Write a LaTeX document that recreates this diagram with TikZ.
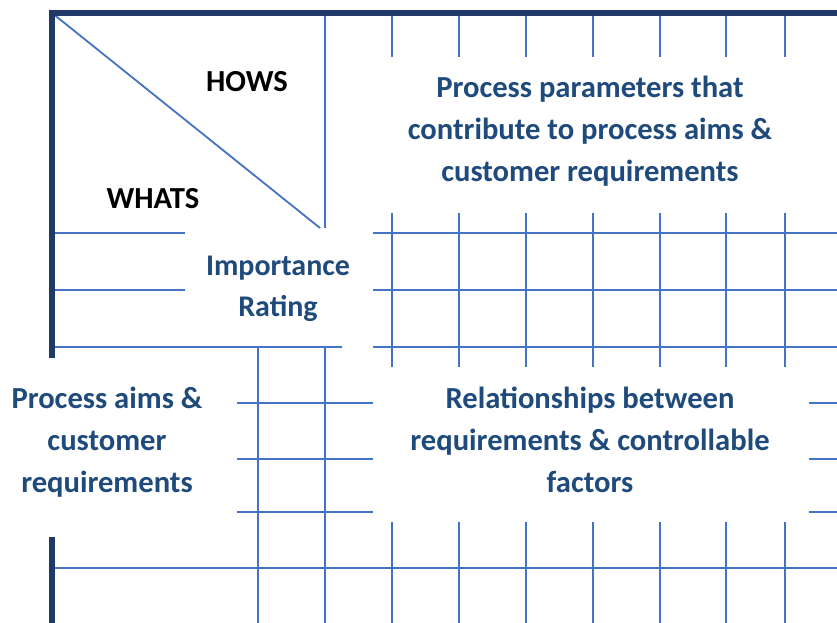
\documentclass[tikz,border=0pt]{standalone}
\usepackage{fontspec}
\setmainfont{Carlito}
\definecolor{txtblue}{HTML}{1F4A7C}
\definecolor{gridblue}{HTML}{4472C4}
\definecolor{frameblue}{HTML}{1F3A68}
\begin{document}
\begin{tikzpicture}[x=1pt,y=-1pt,
  gridline/.style={draw=gridblue,line width=1.8pt},
  frameline/.style={draw=frameblue,line width=6.5pt},
  lbl/.style={font=\bfseries\fontsize{30.6}{42}\selectfont,text=txtblue,align=center,inner sep=0pt},
  hdr/.style={font=\bfseries\fontsize{30.6}{42}\selectfont,text=black,inner sep=0pt,anchor=base}]
\useasboundingbox[fill=white] (0,0) rectangle (837,623);
% thin grid: horizontal segments
\foreach \y in {233,290} {
  \draw[gridline] (52,\y) -- (185,\y);
  \draw[gridline] (373,\y) -- (837,\y);
}
\draw[gridline] (52,347) -- (342,347);
\draw[gridline] (373,347) -- (837,347);
\foreach \y in {403,459,512} {
  \draw[gridline] (237,\y) -- (373,\y);
  \draw[gridline] (809,\y) -- (837,\y);
}
\draw[gridline] (52,568) -- (837,568);
% thin grid: vertical segments
\draw[gridline] (258,347) -- (258,623);
\draw[gridline] (325,13) -- (325,228);
\draw[gridline] (325,347) -- (325,623);
\foreach \x in {392,459,526,593,660,726,785} {
  \draw[gridline] (\x,13) -- (\x,57);
  \draw[gridline] (\x,213) -- (\x,367);
  \draw[gridline] (\x,522) -- (\x,623);
}
% diagonal
\coordinate (dgA) at (52,13);
\coordinate (dgB) at (320,228);
\draw[gridline] (dgA) -- (dgB);
% thick frame
\draw[frameline] (52,358) -- (52,13) -- (837,13);
\draw[frameline] (52,537) -- (52,623);
% labels
\node[hdr] (hows) at (247,92) {HOWS};
\node[hdr] (whats) at (153,208) {WHATS};
\node[lbl] (hows-text) at (590,131) {Process parameters that\\contribute to process aims \&\\customer requirements};
\node[lbl,font=\bfseries\fontsize{30}{41}\selectfont] (importance) at (278,289) {Importance\\Rating};
\node[lbl] (whats-text) at (107,442) {Process aims \&\\customer\\requirements};
\node[lbl] (relations) at (590,440) {Relationships between\\requirements \& controllable\\factors};
\end{tikzpicture}
\end{document}
